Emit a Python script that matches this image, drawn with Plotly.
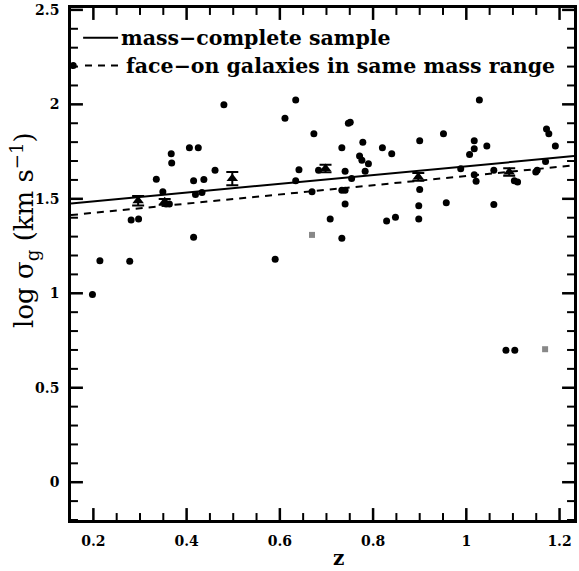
import numpy as np
import plotly.graph_objects as go

# individual galaxies (z, log sigma_g)
gal_z = [0.198, 0.214, 0.278, 0.281, 0.297, 0.335, 0.349, 0.356, 0.363, 0.367, 0.368,
         0.406, 0.425, 0.415, 0.437, 0.419, 0.433, 0.415, 0.461, 0.480, 0.590, 0.611,
         0.634, 0.641, 0.634, 0.673, 0.669, 0.683, 0.708, 0.733, 0.740, 0.733, 0.740,
         0.754, 0.740, 0.733, 0.747, 0.751, 0.778, 0.771, 0.776, 0.790, 0.783, 0.820,
         0.840, 0.829, 0.848, 0.900, 0.900, 0.898, 0.898, 0.951, 0.957, 0.988, 1.017,
         1.017, 1.007, 1.028, 1.044, 1.017, 1.021, 1.059, 1.059, 1.103, 1.110, 1.152,
         1.149, 1.170, 1.172, 1.177, 1.191, 1.085, 1.104]
gal_s = [0.993, 1.172, 1.170, 1.388, 1.393, 1.604, 1.537, 1.472, 1.472, 1.738, 1.689,
         1.770, 1.770, 1.595, 1.602, 1.523, 1.533, 1.296, 1.651, 1.998, 1.180, 1.926,
         2.023, 1.654, 1.595, 1.844, 1.537, 1.651, 1.393, 1.770, 1.646, 1.546, 1.546,
         1.607, 1.472, 1.291, 1.900, 1.905, 1.800, 1.726, 1.704, 1.686, 1.646, 1.770,
         1.738, 1.383, 1.402, 1.808, 1.549, 1.463, 1.393, 1.844, 1.479, 1.659, 1.808,
         1.765, 1.735, 2.023, 1.779, 1.628, 1.593, 1.470, 1.651, 1.595, 1.589, 1.651,
         1.642, 1.698, 1.870, 1.844, 1.779, 0.698, 0.698]
# faint (grey) points
faint_z = [0.669, 1.169]
faint_s = [1.309, 0.704]

# binned means with errors
bin_z = [0.296, 0.353, 0.498, 0.698, 0.897, 1.092]
bin_s = [1.490, 1.484, 1.607, 1.660, 1.616, 1.642]
bin_err = [0.025, 0.015, 0.035, 0.02, 0.02, 0.02]

# fits
fit_z = [0.152, 1.231]
fit_mass = [1.475, 1.726]
fit_face = [1.414, 1.677]

x_ticks = [0.2, 0.4, 0.6, 0.8, 1.0, 1.2]
x_labels = ["0.2", "0.4", "0.6", "0.8", "1", "1.2"]
y_ticks = [0, 0.5, 1, 1.5, 2, 2.5]
y_labels = ["0", "0.5", "1", "1.5", "2", "2.5"]
x_minor_step = 0.05
y_minor_step = 0.1

x_range = [0.152, 1.231]
y_range = [-0.2, 2.51]

legend_labels = ["mass\u2212complete sample", "face\u2212on galaxies in same mass range"]

W, H = 579, 571
M = dict(l=71, r=2, t=5, b=51)

fig = go.Figure()
fig.add_trace(go.Scatter(x=fit_z, y=fit_mass, mode="lines",
                         line=dict(color="black", width=2), showlegend=False))
fig.add_trace(go.Scatter(x=fit_z, y=fit_face, mode="lines",
                         line=dict(color="black", width=2, dash="7px,6px"), showlegend=False))
fig.add_trace(go.Scatter(x=gal_z, y=gal_s, mode="markers",
                         marker=dict(color="black", size=7), showlegend=False))
fig.add_trace(go.Scatter(x=faint_z, y=faint_s, mode="markers",
                         marker=dict(color="#888888", size=6, symbol="square"), showlegend=False))
fig.add_trace(go.Scatter(x=bin_z, y=bin_s, mode="markers",
                         marker=dict(color="black", size=10, symbol="triangle-up"),
                         error_y=dict(type="data", array=bin_err, color="black",
                                      thickness=2, width=6),
                         showlegend=False))

# inside tick marks on all four sides, as line segments in axis units
ux = (x_range[1] - x_range[0]) / (W - M["l"] - M["r"])   # data units per pixel
uy = (y_range[1] - y_range[0]) / (H - M["t"] - M["b"])


def tick_trace(vals, length_px, width, horizontal):
    xs, ys = [], []
    for v in vals:
        if horizontal:
            d = length_px * uy
            xs += [v, v, None, v, v, None]
            ys += [y_range[0], y_range[0] + d, None, y_range[1], y_range[1] - d, None]
        else:
            d = length_px * ux
            ys += [v, v, None, v, v, None]
            xs += [x_range[0], x_range[0] + d, None, x_range[1], x_range[1] - d, None]
    fig.add_trace(go.Scatter(x=xs, y=ys, mode="lines", showlegend=False,
                             hoverinfo="skip", line=dict(color="black", width=width)))


x_minor = [v for v in np.arange(0.15, x_range[1], x_minor_step)
           if v >= x_range[0] and min(abs(v - t) for t in x_ticks) > 1e-6]
y_minor = [v for v in np.arange(-0.2, y_range[1], y_minor_step)
           if v >= y_range[0] - 1e-9 and min(abs(v - t) for t in y_ticks) > 1e-6]
tick_trace(x_ticks, 12, 2.5, True)
tick_trace(x_minor, 7, 2, True)
tick_trace(y_ticks, 12, 2.5, False)
tick_trace(y_minor, 7, 2, False)

# legend (drawn manually)
leg_font = dict(family="DejaVu Serif", size=20.5, color="black", weight="bold")
fig.add_shape(type="line", x0=0.178, x1=0.253, y0=2.353, y1=2.353,
              line=dict(color="black", width=2))
fig.add_annotation(x=0.255, y=2.353, text=legend_labels[0], showarrow=False,
                   xanchor="left", yanchor="middle", font=leg_font)
fig.add_trace(go.Scatter(x=[0.1567], y=[2.205], mode="markers",
                         marker=dict(color="black", size=7), showlegend=False))
fig.add_shape(type="line", x0=0.182, x1=0.262, y0=2.205, y1=2.205,
              line=dict(color="black", width=2, dash="7px,6px"))
fig.add_annotation(x=0.266, y=2.205, text=legend_labels[1],
                   showarrow=False, xanchor="left", yanchor="middle", font=leg_font)

# axis titles
fig.add_annotation(xref="paper", yref="paper", x=-0.093, y=0.567, textangle=-90,
                   text="log σ<sub>g</sub> (km s<sup>−1</sup>)", showarrow=False,
                   xanchor="center", yanchor="middle",
                   font=dict(family="DejaVu Serif", size=26, color="black"))
fig.add_annotation(xref="paper", yref="paper", x=0.532, y=-0.074,
                   text="z", showarrow=False, xanchor="center", yanchor="middle",
                   font=dict(family="DejaVu Serif", size=20, color="black", weight="bold"))

tick_font = dict(family="DejaVu Serif", size=14, color="black", weight="bold")
major = dict(showgrid=False, zeroline=False, showline=True, linecolor="black",
             linewidth=2.5, mirror=True, ticks="", tickmode="array", tickfont=tick_font,
             ticklabeloverflow="allow", ticklabelstandoff=6)

fig.update_layout(
    xaxis=dict(range=x_range, tickvals=x_ticks, ticktext=x_labels, **major),
    yaxis=dict(range=y_range, tickvals=y_ticks, ticktext=y_labels, **major),
    width=W, height=H, margin=M,
    plot_bgcolor="white", paper_bgcolor="white", showlegend=False)

fig.write_html("out.html")
